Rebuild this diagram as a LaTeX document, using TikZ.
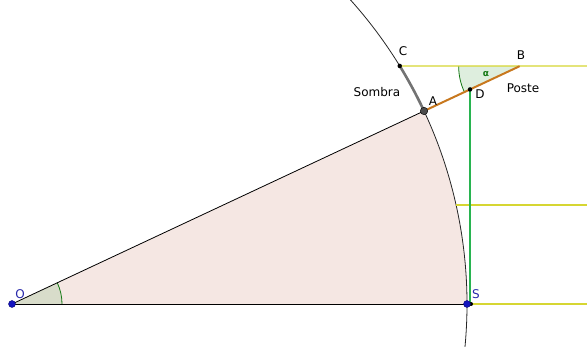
\documentclass[tikz,border=0pt]{standalone}
\usepackage{fontspec}
\setmainfont{DejaVu Sans}
\usetikzlibrary{calc}
\definecolor{sectorpink}{RGB}{245,231,227}
\definecolor{angleO}{RGB}{216,220,202}
\definecolor{angleB}{RGB}{222,238,222}
\definecolor{anglegreen}{RGB}{20,120,20}
\definecolor{lineyellow}{RGB}{214,214,50}
\definecolor{linegreen}{RGB}{40,180,80}
\definecolor{poleorange}{RGB}{200,120,30}
\definecolor{ptblue}{RGB}{20,20,190}
\definecolor{lblblue}{RGB}{40,40,170}
\begin{document}
\begin{tikzpicture}[x=1pt, y=1pt, every node/.style={font=\fontsize{12}{14}\selectfont}]
        \tikzstyle{pt} = [circle, fill=black, inner sep=0pt, minimum size=4.5pt]
        \tikzstyle{bluept} = [circle, fill=ptblue, draw=ptblue!60!black, inner sep=0pt, minimum size=7pt]
        \tikzstyle{ray} = [lineyellow, line width=1.3pt]
        \useasboundingbox (0,0) rectangle (587,347);
        \clip (0,0) rectangle (587,347);
        % geometry
        \coordinate (O) at (12,43);
        \coordinate (S) at ([shift={(O)}]0:455);
        \coordinate (A) at ([shift={(O)}]25.1:455);
        \coordinate (B) at ([shift={(O)}]25.1:560.6);
        \coordinate (C) at ([shift={(O)}]31.55:455);
        \coordinate (D) at ($(A)!0.481!(B)$);
        \coordinate (F) at (D |- S);
        \coordinate (M) at ([shift={(O)}]12.57:455);
        \coordinate (Cr) at (587,281);
        \coordinate (Mr) at (587,142);
        \coordinate (Sr) at (587,43);
        % sector and angles
        \fill[sectorpink] (O) -- (S) arc (0:25.1:455) -- cycle;
        \fill[angleO] (O) -- ++(50,0) arc (0:25.1:50) -- cycle;
        \draw[anglegreen, thick] (O) ++(50,0) arc (0:25.1:50);
        \fill[angleB] (B) -- ++(180:61) arc (180:205.1:61) -- cycle;
        \draw[anglegreen, thick] (B) ++(180:61) arc (180:205.1:61);
        % circle and sides
        \draw[black!85, line width=0.8pt] (O) ++(-7:455) arc (-7:44:455);
        \draw[line width=0.8pt] (O) -- (S);
        \draw[line width=0.8pt] (O) -- (A);
        \draw[black!55, line width=2.6pt] (C) arc (31.55:25.1:455);
        % sun rays
        \draw[ray] (C) -- (Cr);
        \draw[ray] (M |- Mr) -- (Mr);
        \draw[ray] (S) -- (Sr);
        % pole
        \draw[linegreen, line width=1.5pt] (D) -- (F);
        \draw[poleorange, line width=2pt] (A) -- (B);
        % points
        \node[pt, minimum size=4pt] (Fdot) at ($(F)+(1,0)$) {};
        \node[bluept] (Odot) at (O) {};
        \node[bluept] (Sdot) at (S) {};
        \node[circle, fill=black!70, draw=black, inner sep=0pt, minimum size=7.5pt] (Adot) at (A) {};
        \node[pt] (Cdot) at (C) {};
        \node[pt] (Ddot) at (D) {};
        % labels
        \node[lblblue] (lO) at (20,53) {O};
        \node[lblblue] (lS) at (476,53) {S};
        \node (lC) at (403,296) {C};
        \node (lB) at (521,292) {B};
        \node (lA) at (433,246) {A};
        \node (lD) at (480,253) {D};
        \node[anglegreen, font=\fontsize{9}{10}\bfseries] (lalpha) at (486,273) {α};
        \node (lPoste) at (523,259) {Poste};
        \node (lSombra) at (377,255) {Sombra};
      \end{tikzpicture}
\end{document}
